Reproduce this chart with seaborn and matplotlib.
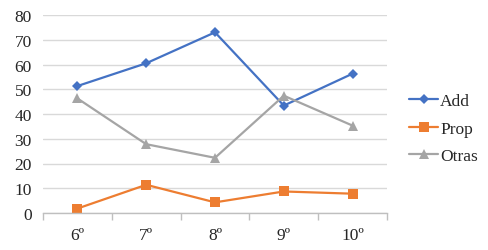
import matplotlib
matplotlib.use("Agg")
import matplotlib.pyplot as plt
import seaborn as sns
import pandas as pd
import numpy as np

categories = ["6º", "7º", "8º", "9º", "10º"]
add = [51.3, 60.5, 73.0, 43.4, 56.3]
prop = [1.8, 11.4, 4.3, 8.7, 7.8]
otras = [46.3, 27.8, 22.3, 47.4, 35.3]
series_names = ["Add", "Prop", "Otras"]

sns.set_theme(style="white")
plt.rcParams['font.family'] = ['Liberation Serif', 'DejaVu Serif']

df = pd.DataFrame({
    "cat": categories * 3,
    "val": add + prop + otras,
    "serie": [s for s in series_names for _ in categories],
})

palette = {"Add": "#4472C4", "Prop": "#ED7D31", "Otras": "#A5A5A5"}
markers = {"Add": "D", "Prop": "s", "Otras": "^"}
msize = {"Add": 5, "Prop": 7, "Otras": 6.5}

fig = plt.figure(figsize=(4.88, 2.51), dpi=100)
ax = fig.add_axes([43/488, 1 - 214/251, (387-43)/488, (214-16)/251])

sns.lineplot(data=df, x="cat", y="val", hue="serie", style="serie",
             markers=markers, dashes=False, palette=palette, ax=ax,
             linewidth=1.6, markeredgewidth=0, sort=False, legend=True)
for line, name in zip(ax.get_lines(), series_names):
    line.set_markersize(msize[name])

ax.set_ylim(0, 80)
ax.set_xlim(-0.5, 4.5)
ax.set_yticks(range(0, 81, 10))
ax.yaxis.grid(True, color="#d9d9d9", linewidth=1.0)
ax.set_axisbelow(True)
for s in ["top", "right", "left"]:
    ax.spines[s].set_visible(False)
ax.spines["bottom"].set_color("#bfbfbf")
ax.spines["bottom"].set_linewidth(1.0)
ax.set_xlabel("")
ax.set_ylabel("")
ax.set_xticks(range(len(categories)))
ax.set_xticklabels(categories)
ax.set_xticks(np.arange(-0.5, 5, 1), minor=True)
ax.tick_params(axis="x", which="major", length=0, pad=10, labelsize=12.5)
ax.tick_params(axis="x", which="minor", length=5, color="#bfbfbf", width=1, direction="out", bottom=True)
ax.tick_params(axis="y", length=0, pad=8, labelsize=12.5)

handles, labels = ax.get_legend_handles_labels()
for h, name in zip(handles, labels):
    if name in msize:
        h.set_markersize(msize[name])
ax.legend(handles, labels, loc="center left", bbox_to_anchor=(1.028, 0.425),
          frameon=False, fontsize=12.5, handlelength=1.7, handletextpad=0.1,
          labelspacing=0.65, borderaxespad=0.3)

fig.savefig("out.png", dpi=100)
